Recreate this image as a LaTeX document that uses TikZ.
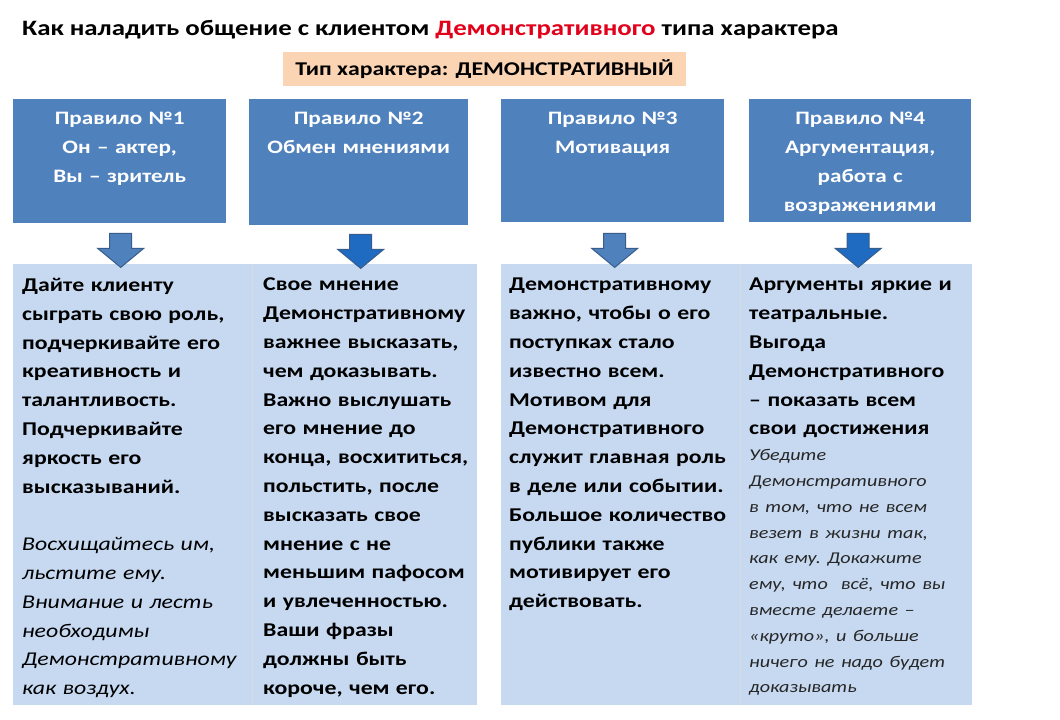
\documentclass[tikz,border=0pt]{standalone}
\usepackage{fontspec}
\setmainfont{Carlito}[FakeStretch=1.22]
\usetikzlibrary{positioning,calc}

\definecolor{ruleblue}{HTML}{4F81BD}
\definecolor{paleblue}{HTML}{C6D9F1}
\definecolor{peach}{HTML}{FBD4B4}
\definecolor{titlered}{HTML}{E2001A}
\definecolor{arrowdark}{HTML}{1F6BC1}
\definecolor{arrowedge}{HTML}{385D8A}
\definecolor{sepgray}{HTML}{D3DBE4}
\definecolor{notegray}{HTML}{262626}

\tikzset{
  rulebox/.style={fill=ruleblue, inner sep=0pt, anchor=north west},
  ruletext/.style={text=white, font=\bfseries\fontsize{19}{29}\selectfont, align=center, inner sep=0pt, anchor=north},
  colbox/.style={fill=paleblue, inner sep=0pt, anchor=north west},
  coltext/.style={font=\frenchspacing\bfseries\fontsize{19.5}{28.8}\selectfont, align=left, text width=300pt, inner sep=0pt, anchor=north west},
  blockarrow/.style={fill=ruleblue, draw=arrowedge, line width=1pt},
}

% block arrow pointing down from a named top point
\newcommand{\downblock}[2]{%
  \filldraw[blockarrow,#2] ($(#1)+(-11,0)$) -- ($(#1)+(-11,15)$) -- ($(#1)+(-23,15)$)
    -- ($(#1)+(0,34)$) -- ($(#1)+(23,15)$) -- ($(#1)+(11,15)$) -- ($(#1)+(11,0)$) -- cycle;}

\begin{document}
\begin{tikzpicture}[x=1pt,y=-1pt]
  \useasboundingbox[fill=white] (0,0) rectangle (1060,720);

  % Title
  \node[anchor=base west, inner sep=0pt, font=\bfseries\fontsize{22}{26}\selectfont] (title) at (22,35)
    {Как наладить общение с клиентом \textcolor{titlered}{Демонстративного} типа характера};
  \node[fill=peach, minimum width=403pt, minimum height=34pt, inner sep=0pt,
        font=\bfseries\fontsize{19.5}{23}\selectfont] (type) at (484.5,69) {Тип характера: ДЕМОНСТРАТИВНЫЙ};

  % Rules
  \node[rulebox, minimum width=213pt, minimum height=124pt] (rule1) at (13,99) {};
  \node[rulebox, minimum width=219pt, minimum height=126pt] (rule2) at (249,99) {};
  \node[rulebox, minimum width=223pt, minimum height=123pt] (rule3) at (501,99) {};
  \node[rulebox, minimum width=222pt, minimum height=123pt] (rule4) at (749,99) {};

  \node[ruletext, text width=213pt] (head1) at ($(rule1.north)+(0,13)$) {Правило №1\\Он – актер,\\Вы – зритель};
  \node[ruletext, text width=219pt] (head2) at ($(rule2.north)+(0,13)$) {Правило №2\\Обмен мнениями};
  \node[ruletext, text width=223pt] (head3) at ($(rule3.north)+(0,13)$) {Правило №3\\Мотивация};
  \node[ruletext, text width=222pt] (head4) at ($(rule4.north)+(0,13)$) {Правило №4\\Аргументация,\\работа с\\возражениями};

  % Columns
  \node[colbox, minimum width=239pt, minimum height=441pt] (col1) at (13,264) {};
  \node[colbox, minimum width=225pt, minimum height=441pt] (col2) at (252,264) {};
  \node[colbox, minimum width=239pt, minimum height=441pt] (col3) at (501,264) {};
  \node[colbox, minimum width=232pt, minimum height=441pt] (col4) at (740,264) {};
  \draw[sepgray, line width=1pt] (col1.north east) -- (col1.south east);
  \draw[sepgray, line width=1pt] (col3.north east) -- (col3.south east);

  % Arrows
  \coordinate (a1) at ($(rule1.south)+(1,10)$);
  \coordinate (a2) at ($(rule2.south)+(2,9)$);
  \coordinate (a3) at ($(rule3.south)+(2,11)$);
  \coordinate (a4) at ($(rule4.south)+(-2,11)$);
  \downblock{a1}{}
  \downblock{a2}{fill=arrowdark}
  \downblock{a3}{}
  \downblock{a4}{fill=arrowdark}

  % Texts
  \node[coltext] (text1) at ($(col1.north west)+(9,14)$) {Дайте клиенту\\
    сыграть свою роль,\\
    подчеркивайте его\\
    креативность и\\
    талантливость.\\
    Подчеркивайте\\
    яркость его\\
    высказываний.\\[28.8pt]
    \itshape\mdseries Восхищайтесь им,\\
    льстите ему.\\
    Внимание и лесть\\
    необходимы\\
    Демонстративному\\
    как воздух.};
  \node[coltext] (text2) at ($(col2.north west)+(11,14)$) {Свое мнение\\
    Демонстративному\\
    важнее высказать,\\
    чем доказывать.\\
    Важно выслушать\\
    его мнение до\\
    конца, восхититься,\\
    польстить, после\\
    высказать свое\\
    мнение с не\\
    меньшим пафосом\\
    и увлеченностью.\\
    Ваши фразы\\
    должны быть\\
    короче, чем его.};
  \node[coltext] (text3) at ($(col3.north west)+(8,14)$) {Демонстративному\\
    важно, чтобы о его\\
    поступках стало\\
    известно всем.\\
    Мотивом для\\
    Демонстративного\\
    служит главная роль\\
    в деле или событии.\\
    Большое количество\\
    публики также\\
    мотивирует его\\
    действовать.};
  \node[coltext] (text4) at ($(col4.north west)+(9,14)$) {Аргументы яркие и\\
    театральные.\\
    Выгода\\
    Демонстративного\\
    – показать всем\\
    свои достижения\par
    \color{notegray}\itshape\mdseries\fontsize{16.5}{25.8}\selectfont Убедите\\
    Демонстративного\\
    в том, что не всем\\
    везет в жизни так,\\
    как ему. Докажите\\
    ему, что\ \ всё, что вы\\
    вместе делаете –\\
    «круто», и больше\\
    ничего не надо будет\\
    доказывать\par};
\end{tikzpicture}
\end{document}
